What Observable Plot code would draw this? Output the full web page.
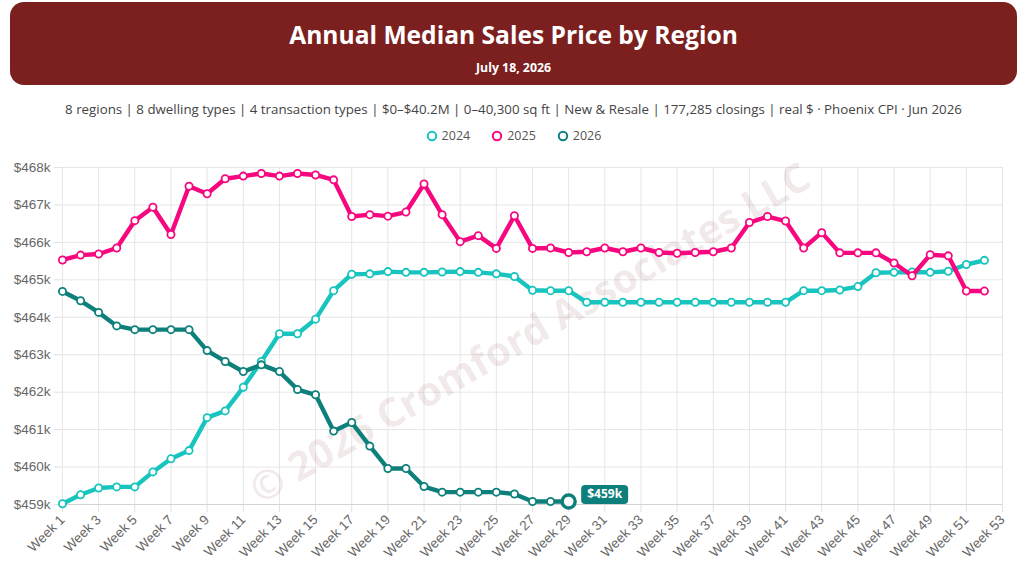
<!DOCTYPE html>
<html><head><meta charset="utf-8">
<script src="https://cdn.jsdelivr.net/npm/d3@7"></script>
<script src="https://cdn.jsdelivr.net/npm/@observablehq/plot@0.6"></script>
<style>
body{margin:0;background:#fff;width:1027px;height:570px;overflow:hidden;position:relative;font-family:"Open Sans",sans-serif;}
#hdr{position:absolute;left:10px;top:2px;width:1007px;height:83px;background:#7b1f1f;border-radius:14px;color:#fff;text-align:center;}
#title{position:absolute;top:16px;left:0;width:100%;font-size:24.6px;font-weight:700;line-height:34px;}
#date{position:absolute;top:57px;left:0;width:100%;font-size:12.3px;font-weight:700;line-height:18px;}
#sub{position:absolute;top:99px;left:0;width:100%;text-align:center;font-size:13.3px;color:#444;line-height:20px;}
#legend{position:absolute;top:127px;left:0;width:100%;display:flex;justify-content:center;gap:21px;font-size:12.5px;color:#555;line-height:18px;}
#legend span{display:flex;align-items:center;gap:4px;}
#chart{position:absolute;top:150px;left:0;}
</style></head>
<body>
<div id="hdr"><div id="title"></div><div id="date"></div></div>
<div id="sub"></div>
<div id="legend"></div>
<div id="chart"></div>
<script>
const title = "Annual Median Sales Price by Region";
const dateText = "July 18, 2026";
const subtitle = "8 regions | 8 dwelling types | 4 transaction types | $0–$40.2M | 0–40,300 sq ft | New & Resale | 177,285 closings | real $ · Phoenix CPI · Jun 2026";
const watermark = "© 2026 Cromford Associates LLC";
const seriesNames = ["2024", "2025", "2026"];
const seriesColors = ["#17c4be", "#f7077f", "#0e807c"];
// values in $ thousands, by week (Week 1 ...)
const v2024 = [459.02,459.26,459.44,459.47,459.47,459.87,460.22,460.44,461.32,461.50,
  462.13,462.82,463.56,463.56,463.95,464.71,465.15,465.16,465.22,465.20,
  465.20,465.21,465.22,465.20,465.16,465.09,464.72,464.71,464.71,464.40,
  464.40,464.40,464.40,464.40,464.40,464.40,464.40,464.40,464.40,464.40,
  464.40,464.71,464.71,464.73,464.82,465.19,465.20,465.21,465.20,465.23,
  465.41,465.52];
const v2025 = [465.53,465.66,465.69,465.85,466.58,466.94,466.21,467.50,467.30,467.70,
  467.77,467.84,467.77,467.84,467.80,467.67,466.69,466.74,466.70,466.81,
  467.56,466.74,466.02,466.18,465.84,466.71,465.84,465.85,465.73,465.75,
  465.85,465.75,465.85,465.73,465.71,465.73,465.75,465.85,466.53,466.69,
  466.57,465.85,466.26,465.72,465.72,465.72,465.45,465.11,465.67,465.64,
  464.70,464.70];
const v2026 = [464.69,464.44,464.13,463.77,463.67,463.67,463.67,463.67,463.11,462.82,
  462.55,462.73,462.55,462.07,461.93,460.96,461.19,460.56,459.96,459.96,
  459.48,459.33,459.33,459.33,459.33,459.28,459.08,459.08,459.08];
const xTicks = [1,3,5,7,9,11,13,15,17,19,21,23,25,27,29,31,33,35,37,39,41,43,45,47,49,51,53];
const yTicks = [459,460,461,462,463,464,465,466,467,468];
const lastLabel = "$459k";

document.getElementById("title").textContent = title;
document.getElementById("date").textContent = dateText;
document.getElementById("sub").textContent = subtitle;
const lg = document.getElementById("legend");
seriesNames.forEach((n,i)=>{
  const s = document.createElement("span");
  s.innerHTML = `<svg width="12" height="12"><circle cx="6" cy="6" r="4.2" fill="none" stroke="${seriesColors[i]}" stroke-width="2"/></svg>${n}`;
  lg.appendChild(s);
});

const seriesVals = [v2024, v2025, v2026];
const series = seriesVals.map((vals,i)=>vals.map((v,j)=>({week:j+1, v, name:seriesNames[i]})));
const last = series[2][series[2].length-1];

const badge = {draw(ctx){ const w=47,h=19,r=4; const x0=-w/2,y0=-h/2,x1=w/2,y1=h/2;
  ctx.moveTo(x0+r,y0); ctx.lineTo(x1-r,y0); ctx.arcTo(x1,y0,x1,y0+r,r); ctx.lineTo(x1,y1-r);
  ctx.arcTo(x1,y1,x1-r,y1,r); ctx.lineTo(x0+r,y1); ctx.arcTo(x0,y1,x0,y1-r,r); ctx.lineTo(x0,y0+r);
  ctx.arcTo(x0,y0,x0+r,y0,r); ctx.closePath(); }};

const tickFont = "Liberation Sans";
const marks = [
  Plot.gridX(xTicks, {stroke:"#e6e6e6", strokeOpacity:1, strokeWidth:1}),
  Plot.gridY(yTicks, {stroke:"#e6e6e6", strokeOpacity:1, strokeWidth:1}),
  Plot.axisX(xTicks, {tickSize:8, tickPadding:5, tickRotate:-45, tickFormat:d=>`Week ${d}`, stroke:"#e0e0e0", fill:"#666", fontSize:13.5, fontFamily:tickFont, label:null}),
  Plot.axisY(yTicks, {tickSize:8, tickPadding:4, tickFormat:d=>`$${d}k`, stroke:"#e0e0e0", fill:"#666", fontSize:13.5, fontFamily:tickFont, label:null}),
  Plot.ruleY([459], {stroke:"#d4d4d4"}),
  Plot.text([watermark], {frameAnchor:"middle", rotate:-30, fontSize:40, fontWeight:"bold", fill:"#7b1f1f", fillOpacity:0.11, fontFamily:"Open Sans", dx:-2, dy:-2}),
];
series.forEach((d,i)=>{
  marks.push(Plot.line(d, {x:"week", y:"v", stroke:seriesColors[i], strokeWidth:4.4, strokeLinejoin:"round"}));
  marks.push(Plot.dot(d, {x:"week", y:"v", r:3.6, fill:"white", stroke:seriesColors[i], strokeWidth:1.8}));
});
marks.push(Plot.dot([last], {x:"week", y:"v", r:6.5, fill:"white", stroke:seriesColors[2], strokeWidth:3.4}));
marks.push(Plot.dot([last], {x:"week", y:"v", symbol:badge, r:5, fill:seriesColors[2], stroke:"none", dx:36, dy:-7}));
marks.push(Plot.text([last], {x:"week", y:"v", text:()=>lastLabel, fill:"white", fontWeight:"bold", fontSize:12, fontFamily:"Open Sans", dx:36, dy:-7}));

const plot = Plot.plot({
  width:1027, height:420, marginTop:17, marginBottom:66, marginLeft:62, marginRight:25,
  style:{fontFamily:tickFont, fontSize:"13.5px", color:"#666", background:"transparent", overflow:"visible"},
  x:{type:"linear", domain:[1,53], label:null},
  y:{type:"linear", domain:[459,468], label:null},
  marks
});
document.getElementById("chart").appendChild(plot);
</script>
</body></html>
